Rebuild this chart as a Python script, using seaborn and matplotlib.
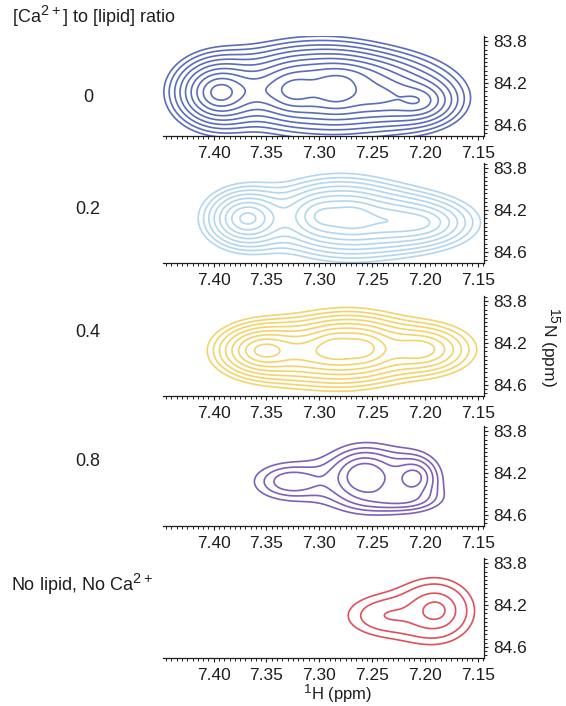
import numpy as np
import matplotlib
matplotlib.use("Agg")
import matplotlib.pyplot as plt
import matplotlib._mathtext as mathtext_engine
from matplotlib.ticker import MultipleLocator, FixedLocator
import seaborn as sns

sns.set_theme(style="ticks")
plt.rcParams["font.family"] = ["Liberation Sans", "DejaVu Sans"]
plt.rcParams["mathtext.fontset"] = "custom"
plt.rcParams["mathtext.rm"] = "Liberation Sans"
plt.rcParams["mathtext.default"] = "regular"
# slightly larger superscripts for the isotope and charge labels
mathtext_engine.SHRINK_FACTOR = 0.8

# Cross peaks: (1H centre, 15N centre, 1H width, 15N width, height)
peaks_0 = [(7.394, 84.29, 0.014, 0.11, 1.00),
           (7.355, 84.27, 0.020, 0.10, 0.20),
           (7.324, 84.27, 0.015, 0.12, 0.78),
           (7.284, 84.28, 0.015, 0.12, 0.78),
           (7.275, 84.13, 0.030, 0.10, 0.30),
           (7.245, 84.33, 0.020, 0.12, 0.45),
           (7.207, 84.37, 0.015, 0.09, 0.48)]
peaks_02 = [(7.368, 84.28, 0.014, 0.10, 1.00),
            (7.298, 84.26, 0.015, 0.11, 0.75),
            (7.268, 84.27, 0.015, 0.11, 0.75),
            (7.235, 84.30, 0.020, 0.11, 0.45),
            (7.205, 84.32, 0.020, 0.09, 0.55)]
peaks_04 = [(7.352, 84.27, 0.016, 0.09, 0.97),
            (7.310, 84.30, 0.020, 0.11, 0.35),
            (7.285, 84.25, 0.014, 0.10, 0.75),
            (7.258, 84.25, 0.014, 0.10, 0.75),
            (7.205, 84.26, 0.020, 0.10, 0.55)]
peaks_08 = [(7.257, 84.23, 0.015, 0.12, 1.00),
            (7.210, 84.24, 0.011, 0.10, 0.72),
            (7.225, 84.45, 0.020, 0.06, 0.35),
            (7.327, 84.28, 0.020, 0.10, 0.45)]
peaks_free = [(7.190, 84.25, 0.013, 0.11, 1.00),
              (7.235, 84.30, 0.020, 0.10, 0.45)]

levels_0 = [0.061, 0.085, 0.12, 0.167, 0.234, 0.328, 0.459, 0.643, 0.90]
levels_02 = [0.085, 0.12, 0.167, 0.234, 0.328, 0.459, 0.643, 0.90]
levels_04 = [0.085, 0.12, 0.167, 0.234, 0.328, 0.459, 0.643, 0.90]
levels_08 = [0.17, 0.25, 0.35, 0.50, 0.70]
levels_free = [0.15, 0.25, 0.50, 0.87]

row_labels = ["0", "0.2", "0.4", "0.8", "No lipid, No Ca$^{2+}$"]
line_colors = ["#5b6db8", "#b3d6ee", "#f3d36c", "#7e60b8", "#e0505c"]
x_ticks = [7.40, 7.35, 7.30, 7.25, 7.20, 7.15]
y_ticks = [83.8, 84.2, 84.6]

panels = [peaks_0, peaks_02, peaks_04, peaks_08, peaks_free]
panel_levels = [levels_0, levels_02, levels_04, levels_08, levels_free]

h_grid = np.linspace(7.47, 7.12, 500)
n_grid = np.linspace(83.65, 84.80, 260)
H, N = np.meshgrid(h_grid, n_grid)


def spectrum(peaks):
    z = np.zeros_like(H)
    for h0, n0, wh, wn, amp in peaks:
        r2 = ((H - h0) / wh) ** 2 + ((N - n0) / wn) ** 2
        z += amp * np.exp(1.0 - np.sqrt(1.0 + r2))
    return z


W, Hpx = 566, 706
fig = plt.figure(figsize=(W / 100, Hpx / 100), dpi=100)

axis_bottoms = [136, 263, 396, 526, 658]
label_y = [97, 210, 333, 462, 584]
label_x = [88, 88, 88, 88, 82]
ax_left, ax_right = 163, 484
ax_h = 100
ink = "#1e1e1e"

for i, (peaks, lv) in enumerate(zip(panels, panel_levels)):
    b = axis_bottoms[i]
    ax = fig.add_axes([ax_left / W, 1 - b / Hpx, (ax_right - ax_left) / W, ax_h / Hpx])
    ax.contour(H, N, spectrum(peaks), levels=lv, colors=line_colors[i],
               linewidths=1.2)
    ax.set_xlim(7.448, 7.144)
    ax.set_ylim(84.705, 83.75)
    for s in ["top", "left"]:
        ax.spines[s].set_visible(False)
    for s in ["bottom", "right"]:
        ax.spines[s].set_linewidth(0.9)
        ax.spines[s].set_color(ink)
    ax.yaxis.tick_right()
    ax.xaxis.set_major_locator(FixedLocator(x_ticks))
    ax.xaxis.set_minor_locator(MultipleLocator(0.005))
    ax.yaxis.set_major_locator(FixedLocator(y_ticks))
    ax.yaxis.set_minor_locator(MultipleLocator(0.04))
    ax.set_xticklabels([f"{t:.2f}" for t in x_ticks])
    ax.set_yticklabels([f"{t:.1f}" for t in y_ticks])
    ax.tick_params(axis="both", which="major", direction="out", length=3,
                   width=0.8, color=ink, labelsize=12.5, pad=4,
                   labelcolor=ink)
    ax.tick_params(axis="both", which="minor", direction="out", length=2,
                   width=0.7, color=ink)
    ax.tick_params(axis="y", which="both", left=False, right=True)
    ax.patch.set_alpha(0)
    fig.text(label_x[i] / W, 1 - label_y[i] / Hpx, row_labels[i],
             ha="center", va="center", fontsize=13, color=ink)

fig.text(12 / W, 1 - 16 / Hpx, "[Ca$^{2+}$] to [lipid] ratio", ha="left",
         va="center", fontsize=13, color=ink)
fig.text(550 / W, 1 - 347 / Hpx, "$^{15}$N (ppm)", rotation=-90, ha="center",
         va="center", fontsize=12.5, color=ink)
fig.text(338 / W, 1 - 694 / Hpx, "$^{1}$H (ppm)", ha="center", va="center",
         fontsize=12, color=ink)

fig.savefig("out.png", dpi=100)
